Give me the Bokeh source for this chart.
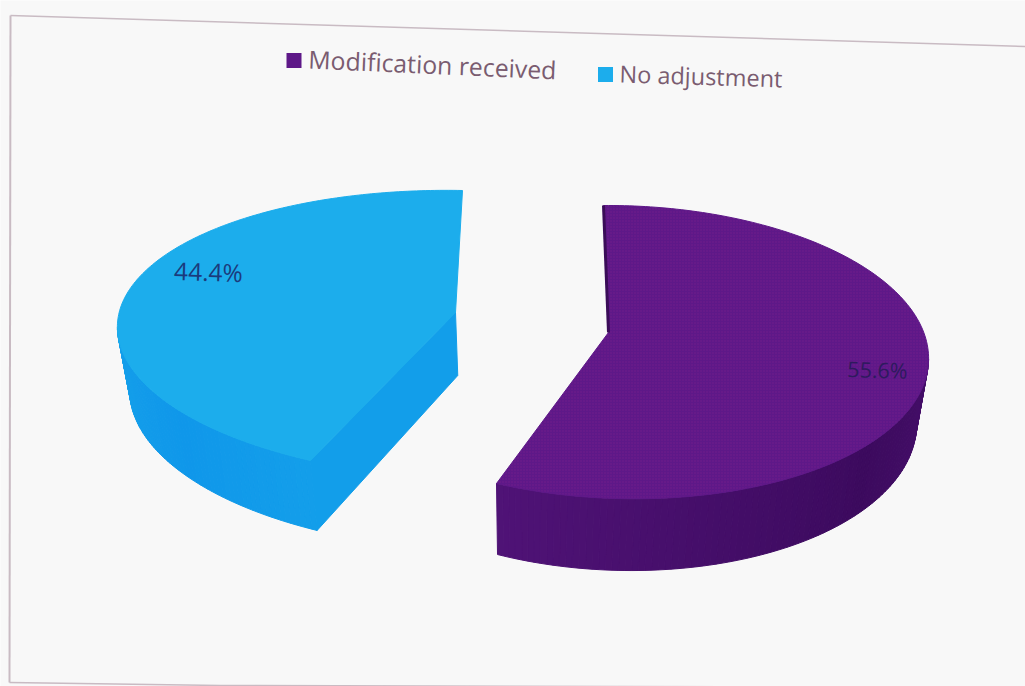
import numpy as np
from bokeh.core.properties import value
from bokeh.embed import file_html
from bokeh.models import Range1d
from bokeh.plotting import figure
from bokeh.resources import INLINE

# Chart values
categories = ["Modification received", "No adjustment"]
shares = [55.6, 44.4]

# Drawing styles
PAGE = "#F8F8F8"
FRAME = "#C9BBC3"
LEGEND_TEXT = "#7A5C70"
TOP_COLOURS = ["#5E1888", "#1CADEC"]
SIDE_LIGHT = ["#52147A", "#1AA9EB"]
SIDE_DARK = ["#3C0A5E", "#0F97EA"]
CUT_COLOURS = ["#3A0C58", "#129EEA"]
LABEL_COLOURS = ["#2E1A5E", "#1B3B7C"]


def rim_projection(apex, anchors):
    """Perspective mapping of a unit disc onto the tilted page, fixed by three rim points."""
    rows, rhs = [], []
    for angle, (px, py) in anchors:
        c, s = np.cos(np.radians(angle)), np.sin(np.radians(angle))
        rows.append([c, s, 0, 0, -px * c, -px * s])
        rhs.append(px - apex[0])
        rows.append([0, 0, c, s, -py * c, -py * s])
        rhs.append(py - apex[1])
    a, b, d, e, f, g = np.linalg.solve(np.array(rows), np.array(rhs))

    def project(angle):
        c, s = np.cos(np.radians(angle)), np.sin(np.radians(angle))
        w = 1 + f * c + g * s
        return (apex[0] + a * c + b * s) / w, (apex[1] + d * c + e * s) / w, w

    return project


def fit_projection(apex, start, end, sweep, guide, seed, seed_angle):
    """Choose the free third rim point so the wedge's outline follows the guide points."""
    angles = np.linspace(90, 90 + sweep, 121)
    guide = np.array(guide, dtype=float)
    best, best_score = None, np.inf
    for da in range(-60, 61, 5):
        for dx in range(-24, 25, 6):
            for dy in range(-24, 25, 6):
                third = (seed_angle + da, (seed[0] + dx, seed[1] + dy))
                try:
                    proj = rim_projection(apex, [(90, start), third, (90 + sweep, end)])
                except np.linalg.LinAlgError:
                    continue
                xs, ys, ws = proj(angles)
                if ws.min() <= 0.1:
                    continue
                dist = np.hypot(xs[None, :] - guide[:, 0, None], ys[None, :] - guide[:, 1, None])
                score = (dist.min(axis=1) ** 2).sum()
                if score < best_score:
                    best, best_score = proj, score
    return best


def extrude(x, y):
    """Thickness of the disc, narrowing toward the back of the scene."""
    return x + 0.03 * (530 - x), y + 63 + (y - 312) * 0.047


def mix(c1, c2, t):
    v1 = [int(c1[i:i + 2], 16) for i in (1, 3, 5)]
    v2 = [int(c2[i:i + 2], 16) for i in (1, 3, 5)]
    return "#%02X%02X%02X" % tuple(int(round(p + (q - p) * t)) for p, q in zip(v1, v2))


p = figure(width=1025, height=686, output_backend="svg", toolbar_location=None,
           x_range=Range1d(0, 1025), y_range=Range1d(686, 0),
           min_border=0, background_fill_color=PAGE, border_fill_color=PAGE)
p.axis.visible = False
p.grid.visible = False
p.outline_line_color = None

# Page frame, slightly skewed
p.line([10, 1025], [15, 46], line_color=FRAME, line_width=1.5)
p.line([10, 9], [15, 682], line_color=FRAME, line_width=2)
p.line([9, 220, 1025], [682, 685, 687], line_color=FRAME, line_width=1.5)

# The two wedges start at twelve o'clock and run in opposite directions
sweeps = [-shares[0] * 3.6, shares[1] * 3.6]
apexes = [(608, 332), (455, 312)]
projections = [
    fit_projection(apexes[0], (603, 205), (496, 483), sweeps[0],
                   [(747, 227), (880, 290), (930, 345), (932, 357), (926, 385), (913, 407),
                    (813, 463), (680, 497), (613, 495), (547, 490)],
                   (932, 357), 0),
    fit_projection(apexes[1], (462, 190), (310, 460), sweeps[1],
                   [(343, 197), (243, 217), (177, 247), (133, 290), (122, 320), (131, 362),
                    (183, 420), (217, 437), (252, 447)],
                   (122, 320), 180),
]

for i, (apex, project, sweep) in enumerate(zip(apexes, projections, sweeps)):
    angles = np.linspace(90, 90 + sweep, 181)
    rim_x, rim_y, _ = project(angles)
    low_x, low_y = extrude(rim_x, rim_y)

    # Outer wall from the silhouette round to the closing radius, darkest near the viewer
    first = int(np.argmax(rim_x)) if i == 0 else int(np.argmin(rim_x))
    near = first + (len(angles) - first) // 3 if i == 0 else len(angles) - 30
    for k in range(first, len(angles) - 1):
        t = max(0.0, 1 - abs(k - near) / 70)
        colour = mix(SIDE_LIGHT[i], SIDE_DARK[i], t)
        p.patch([rim_x[k], rim_x[k + 1], low_x[k + 1], low_x[k]],
                [rim_y[k], rim_y[k + 1], low_y[k + 1], low_y[k]],
                fill_color=colour, line_color=colour, line_width=1)

    # Cut face along the closing radius, only seen on the smaller wedge
    if i == 1:
        ax_low, ay_low = extrude(apex[0], apex[1])
        p.patch([apex[0], rim_x[-1], low_x[-1], ax_low], [apex[1], rim_y[-1], low_y[-1], ay_low],
                fill_color=CUT_COLOURS[i], line_color=CUT_COLOURS[i], line_width=1)

    # Top face; the larger wedge carries a fine stipple of magenta
    top = dict(fill_color=TOP_COLOURS[i], line_color=TOP_COLOURS[i], line_width=1)
    if i == 0:
        top.update(hatch_pattern="dot", hatch_color="#8A2090", hatch_alpha=0.45, hatch_scale=3)
    p.patch([apex[0], *rim_x], [apex[1], *rim_y], **top)

# Dark sliver of the wall along the first radius of the larger wedge
start_x, start_y, _ = projections[0](np.array(90.0))
p.line([start_x, apexes[0][0]], [start_y, apexes[0][1]], line_color=CUT_COLOURS[0], line_width=3)

# Value labels
p.text([208], [271], text=[f"{shares[1]:.1f}%"], text_font=value("Open Sans"),
       text_font_size="24.5px", text_color=LABEL_COLOURS[1],
       text_align="center", text_baseline="middle", angle=-0.03)
p.text([877], [369], text=[f"{shares[0]:.1f}%"], text_font=value("Open Sans"),
       text_font_size="21.5px", text_color=LABEL_COLOURS[0],
       text_align="center", text_baseline="middle", angle=-0.03)

# Legend
p.scatter([293.5, 605], [60, 74], marker="square", size=15,
          fill_color=[TOP_COLOURS[0], TOP_COLOURS[1]], line_color=None)
p.text([308], [58], text=[categories[0]], text_font=value("Open Sans"),
       text_font_size="24.8px", text_color=LEGEND_TEXT,
       text_align="left", text_baseline="alphabetic", angle=-0.044)
p.text([619], [73], text=[categories[1]], text_font=value("Open Sans"),
       text_font_size="23.5px", text_color=LEGEND_TEXT,
       text_align="left", text_baseline="alphabetic", angle=-0.03)

open("out.html", "w").write(file_html(p, INLINE))
